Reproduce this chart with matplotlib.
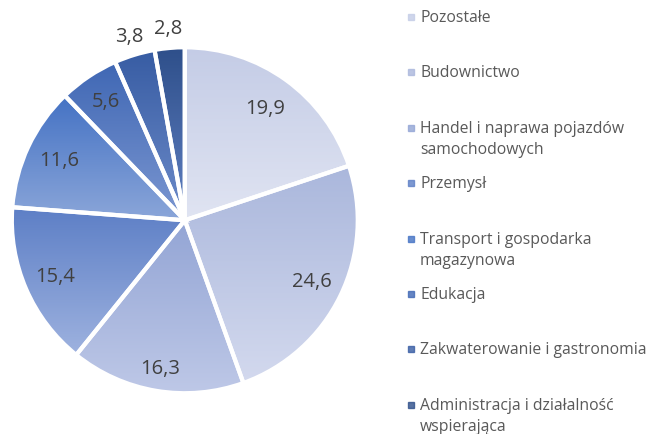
import matplotlib.pyplot as plt
import numpy as np
from matplotlib.colors import LinearSegmentedColormap
from matplotlib.patches import Rectangle

# Sector shares (%), clockwise from 12 o'clock
sectors = [
    "Pozostałe",
    "Budownictwo",
    "Handel i naprawa pojazdów\nsamochodowych",
    "Przemysł",
    "Transport i gospodarka\nmagazynowa",
    "Edukacja",
    "Zakwaterowanie i gastronomia",
    "Administracja i działalność\nwspierająca",
]
shares = [19.9, 24.6, 16.3, 15.4, 11.6, 5.6, 3.8, 2.8]

# gradient ends for each slice (top -> bottom)
top_colors = ["#c4cce6", "#aab7dc", "#93a5d5", "#5d7fc6", "#4472c4", "#3f67b4", "#375ca3", "#2e4f8a"]
bottom_colors = ["#e0e4f2", "#d3d9ee", "#bec8e7", "#9eb2df", "#8ba6d9", "#7c97d1", "#6d8bc9", "#6080c2"]
label_dist = [0.79, 0.82, 0.87, 0.82, 0.80, 0.82, 1.11, 1.11]

plt.rcParams["font.family"] = ["Open Sans", "DejaVu Sans"]

fig = plt.figure(figsize=(6.53, 4.34), dpi=100)
ax = fig.add_axes([0.018, 0.094, 0.530, 0.797])

wedges, _ = ax.pie(shares, startangle=90, counterclock=False, radius=1,
                   wedgeprops=dict(edgecolor="white", linewidth=3))

grad = np.linspace(0, 1, 256).reshape(-1, 1)
for w, c0, c1 in zip(wedges, top_colors, bottom_colors):
    cmap = LinearSegmentedColormap.from_list("g", [c0, c1])
    ext = w.get_path().get_extents()
    im = ax.imshow(grad, cmap=cmap, aspect="auto", origin="upper",
                   extent=[ext.x0, ext.x1, ext.y0, ext.y1], zorder=w.get_zorder() - 0.1)
    im.set_clip_path(w)
    w.set_facecolor("none")

# value labels
cum = 0
for val, d in zip(shares, label_dist):
    mid = np.deg2rad(90 - (cum + val / 2) * 3.6)
    cum += val
    ax.text(d * np.cos(mid), d * np.sin(mid), f"{val:.1f}".replace(".", ","),
            ha="center", va="center", fontsize=14.5, color="#404040")

ax.set_xlim(-1.0, 1.0)
ax.set_ylim(-1.0, 1.0)
ax.set_aspect("equal")
ax.axis("off")

# legend, fixed slots
W, H = 653, 434
for i, (name, c0, c1) in enumerate(zip(sectors, top_colors, bottom_colors)):
    y = 17 + i * 55.4
    fig.patches.append(Rectangle((408 / W, 1 - (y + 3) / H), 6 / W, 6 / H,
                                 transform=fig.transFigure, color=c0, alpha=0.8))
    fig.text(420 / W, 1 - (y - 7) / H, name, ha="left", va="top",
             fontsize=11.3, color="#595959", linespacing=1.45)

fig.savefig("out.png", dpi=100)
